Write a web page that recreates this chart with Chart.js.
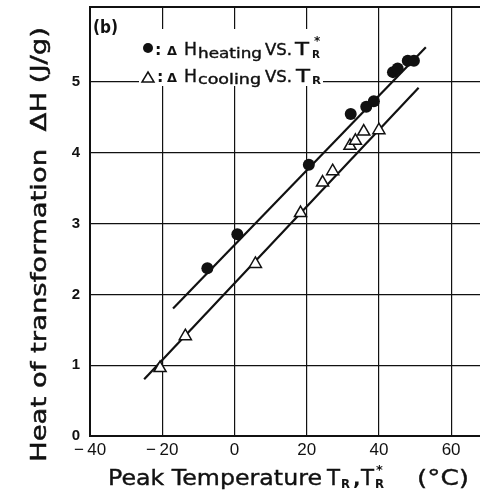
<!DOCTYPE html>
<html>
<head>
<meta charset="utf-8">
<script src="https://cdn.jsdelivr.net/npm/chart.js@4/dist/chart.umd.min.js"></script>
<style>
  html, body { margin: 0; padding: 0; background: #fff; }
  canvas { display: block; }
</style>
</head>
<body>
<canvas id="chart" width="480" height="502"></canvas>
<script>
// values
const heatingT = [-7.5, 0.8, 20.6, 32.2, 36.5, 38.6, 43.9, 45.2, 48.0, 49.7];
const heatingH = [2.37, 2.85, 3.83, 4.55, 4.65, 4.73, 5.14, 5.19, 5.30, 5.30];
const coolingT = [-20.6, -13.6, 5.8, 18.3, 24.4, 27.2, 32.0, 33.5, 35.8, 40.0];
const coolingH = [0.96, 1.41, 2.43, 3.15, 3.58, 3.74, 4.10, 4.17, 4.30, 4.32];
const heatingFitT = [-17, 53];
const heatingFitH = [1.80, 5.49];
const coolingFitT = [-25, 51];
const coolingFitH = [0.80, 4.92];
const xTicks = [-40, -20, 0, 20, 40, 60];
const yTicks = [0, 1, 2, 3, 4, 5];

const INK = "#111";

function pts(xs, ys){ return xs.map((x, i) => ({ x, y: ys[i] })); }

// draw a text run stretched to a given width, slightly heavier than the font
function txt(ctx, s, x, y, font, w, heavy){
  ctx.font = font;
  const m = ctx.measureText(s).width;
  ctx.save();
  ctx.translate(x, y);
  if (w) ctx.scale(w / m, 1);
  ctx.fillText(s, 0, 0);
  if (heavy) { ctx.lineWidth = heavy; ctx.strokeText(s, 0, 0); }
  ctx.restore();
}

const annotations = {
  id: "annotations",
  afterDraw(chart){
    const ctx = chart.ctx;
    const a = chart.chartArea;
    ctx.save();
    ctx.fillStyle = INK;
    ctx.strokeStyle = INK;
    ctx.textAlign = "left";
    ctx.textBaseline = "alphabetic";

    // top frame line
    ctx.lineWidth = 2;
    ctx.beginPath();
    ctx.moveTo(a.left, a.top);
    ctx.lineTo(a.right, a.top);
    ctx.stroke();

    // panel label
    txt(ctx, "(b)", 93, 33, "bold 17px 'DejaVu Sans'", 25);

    // legend box
    ctx.fillStyle = "#fff";
    ctx.fillRect(139, 29, 184, 57);
    ctx.fillStyle = INK;

    // row 1: heating
    ctx.beginPath();
    ctx.arc(148, 48, 5, 0, Math.PI * 2);
    ctx.fill();
    txt(ctx, ":", 155, 55, "bold 16px 'DejaVu Sans'");
    txt(ctx, "Δ", 167, 55, "bold 13px 'DejaVu Sans'", 10);
    txt(ctx, "H", 184, 55, "18px 'DejaVu Sans'", 13, 0.4);
    txt(ctx, "heating", 198, 58, "14px 'DejaVu Sans'", 64, 0.4);
    txt(ctx, "VS.", 265, 55, "16px 'DejaVu Sans'", 27, 0.4);
    txt(ctx, "T", 295, 55, "18px 'DejaVu Sans'", 14, 0.4);
    txt(ctx, "R", 312, 58, "bold 11px 'DejaVu Sans'", 8);
    txt(ctx, "*", 314, 45, "bold 12px 'DejaVu Sans'");

    // row 2: cooling
    ctx.lineWidth = 1.5;
    ctx.fillStyle = "#fff";
    ctx.beginPath();
    ctx.moveTo(148, 72);
    ctx.lineTo(154, 82);
    ctx.lineTo(142, 82);
    ctx.closePath();
    ctx.fill();
    ctx.stroke();
    ctx.fillStyle = INK;
    txt(ctx, ":", 157, 82, "bold 16px 'DejaVu Sans'");
    txt(ctx, "Δ", 167, 82, "bold 13px 'DejaVu Sans'", 10);
    txt(ctx, "H", 184, 82, "18px 'DejaVu Sans'", 13, 0.4);
    txt(ctx, "cooling", 198, 84, "14px 'DejaVu Sans'", 63, 0.4);
    txt(ctx, "VS.", 265, 82, "16px 'DejaVu Sans'", 27, 0.4);
    txt(ctx, "T", 296, 82, "18px 'DejaVu Sans'", 14, 0.4);
    txt(ctx, "R", 312, 84, "bold 11px 'DejaVu Sans'", 9);

    // x axis title
    txt(ctx, "Peak Temperature", 108, 485, "22px 'DejaVu Sans'", 214, 0.4);
    txt(ctx, "T", 327, 485, "22px 'DejaVu Sans'", 13, 0.4);
    txt(ctx, "R", 341, 488, "bold 12px 'DejaVu Sans'", 9);
    txt(ctx, ",", 353, 485, "bold 20px 'DejaVu Sans'");
    txt(ctx, "T", 361, 485, "22px 'DejaVu Sans'", 13, 0.4);
    txt(ctx, "R", 375, 488, "bold 12px 'DejaVu Sans'", 9);
    txt(ctx, "*", 376, 474, "bold 13px 'DejaVu Sans'");
    txt(ctx, "(°C)", 417, 485, "22px 'DejaVu Sans'", 52, 0.4);

    // y axis title
    ctx.save();
    ctx.translate(46, 462);
    ctx.rotate(-Math.PI / 2);
    txt(ctx, "Heat of transformation  ΔH (J/g)", 0, 0, "22px 'DejaVu Sans'", 435, 0.5);
    ctx.restore();

    ctx.restore();
  }
};

new Chart(document.getElementById("chart"), {
  type: "scatter",
  data: {
    datasets: [
      { label: "heating fit", data: pts(heatingFitT, heatingFitH), showLine: true,
        borderColor: INK, borderWidth: 2.2, pointRadius: 0, order: 3 },
      { label: "cooling fit", data: pts(coolingFitT, coolingFitH), showLine: true,
        borderColor: INK, borderWidth: 2.2, pointRadius: 0, order: 3 },
      { label: "ΔH heating vs T_R*", data: pts(heatingT, heatingH),
        pointStyle: "circle", pointRadius: 6, backgroundColor: INK, borderColor: INK, borderWidth: 0, order: 1 },
      { label: "ΔH cooling vs T_R", data: pts(coolingT, coolingH),
        pointStyle: "triangle", pointRadius: 7, backgroundColor: "#fff", borderColor: INK, borderWidth: 1.5, order: 2 }
    ]
  },
  options: {
    responsive: false,
    animation: false,
    layout: { autoPadding: false, padding: { top: 7, right: 0, bottom: 0, left: 0 } },
    plugins: { legend: { display: false }, tooltip: { enabled: false } },
    scales: {
      x: {
        type: "linear",
        min: -40,
        max: 68,
        afterBuildTicks: s => { s.ticks = xTicks.map(v => ({ value: v })); },
        afterFit: s => { s.height = 66; s.paddingLeft = 0; s.paddingRight = 0; },
        ticks: {
          color: INK,
          padding: 4,
          maxRotation: 0,
          font: { family: "'Liberation Sans'", size: 17 },
          callback: v => v < 0 ? "−\u2009" + Math.abs(v) : String(v)
        },
        grid: { color: INK, lineWidth: 1.2, drawTicks: false },
        border: { color: INK, width: 2 }
      },
      y: {
        type: "linear",
        min: 0,
        max: 6.06,
        afterBuildTicks: s => { s.ticks = yTicks.map(v => ({ value: v })); },
        afterFit: s => { s.width = 90; s.paddingTop = 0; s.paddingBottom = 0; },
        ticks: {
          color: INK,
          padding: 10,
          font: { family: "'Liberation Sans'", size: 15, weight: "bold" }
        },
        grid: { color: INK, lineWidth: 1.2, drawTicks: false },
        border: { color: INK, width: 2 }
      }
    }
  },
  plugins: [annotations]
});
</script>
</body>
</html>
